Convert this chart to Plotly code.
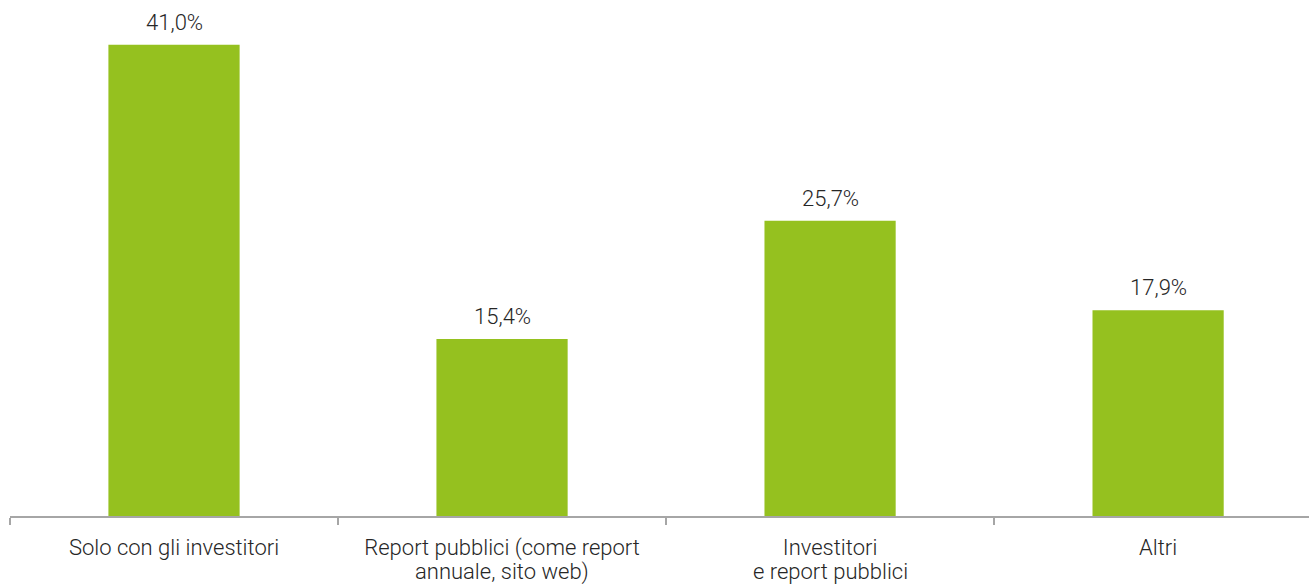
import plotly.graph_objects as go

categories = [
    "Solo con gli investitori",
    "Report pubblici (come report<br>annuale, sito web)",
    "Investitori<br>e report pubblici",
    "Altri",
]
values = [41.0, 15.4, 25.7, 17.9]
labels = [f"{v:.1f}%".replace(".", ",") for v in values]

BAR_COLOR = "#95C11F"
TEXT_COLOR = "#262626"
AXIS_COLOR = "#A6A6A6"
FONT = dict(family="Roboto", size=22, color=TEXT_COLOR, weight=300)

# first line of each category name goes on the axis, the rest below it
first_lines = [c.split("<br>")[0] for c in categories]
second_lines = [c.split("<br>")[1] if "<br>" in c else "" for c in categories]

fig = go.Figure(
    go.Bar(
        x=categories,
        y=values,
        marker=dict(color=BAR_COLOR, line=dict(width=0)),
        width=0.40,
        hoverinfo="skip",
    )
)

annotations = []
for cat, val, lab in zip(categories, values, labels):
    annotations.append(dict(
        x=cat, y=val, xref="x", yref="y",
        text=lab, showarrow=False, font=FONT,
        xanchor="center", yanchor="bottom", yshift=8,
    ))
for cat, line in zip(categories, second_lines):
    if line:
        annotations.append(dict(
            x=cat, y=0, xref="x", yref="paper",
            text=line, showarrow=False, font=FONT,
            xanchor="center", yanchor="top", yshift=-41,
        ))

fig.update_layout(
    width=1309,
    height=585,
    margin=dict(l=10, r=0, t=0, b=69),
    paper_bgcolor="white",
    plot_bgcolor="white",
    font=FONT,
    showlegend=False,
    annotations=annotations,
)

fig.update_xaxes(
    type="category",
    range=[-0.5, 3.46],
    tickmode="array",
    tickvals=categories,
    ticktext=first_lines,
    showline=True,
    linecolor=AXIS_COLOR,
    linewidth=1.5,
    ticks="outside",
    tickson="boundaries",
    ticklen=7,
    tickcolor=AXIS_COLOR,
    tickwidth=1.5,
    ticklabelstandoff=11,
    showgrid=False,
    tickfont=FONT,
    fixedrange=True,
)

fig.update_yaxes(
    range=[0, 44.9],
    visible=False,
    showgrid=False,
    zeroline=False,
    fixedrange=True,
)

fig.write_html("out.html")
